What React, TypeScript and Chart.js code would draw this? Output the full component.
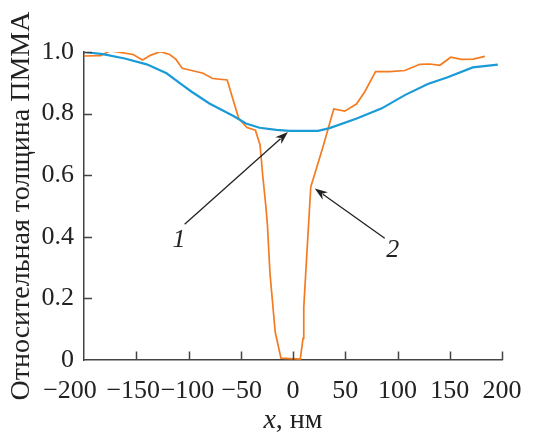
import React, { useEffect, useRef } from 'react';
import { Chart, registerables } from 'chart.js';

Chart.register(...registerables);

// Curve 1 (blue)
const blueX = [-200, -182, -161, -140, -121, -108, -97, -80, -57, -45, -32, -16, -3, 24, 35, 61, 85, 107, 129, 148, 172, 196];
const blueY = [1.0, 0.993, 0.979, 0.96, 0.931, 0.898, 0.871, 0.833, 0.792, 0.768, 0.754, 0.747, 0.744, 0.744, 0.753, 0.784, 0.817, 0.86, 0.896, 0.918, 0.95, 0.959];

// Curve 2 (orange)
const orangeX = [-200, -184, -175, -153, -144, -136, -127, -118, -112, -106, -96, -86, -77, -63, -52, -44, -36, -31.5, -29, -26, -24.5, -22, -17, -11.5, 7, 9.6, 10.3, 13, 17, 28.5, 39, 49.5, 60.7, 68.7, 79, 92.6, 107, 121.4, 131, 140.5, 151, 161.3, 172.4, 183.6];
const orangeY = [0.987, 0.988, 1.004, 0.992, 0.974, 0.99, 1.001, 0.992, 0.976, 0.947, 0.939, 0.931, 0.914, 0.909, 0.785, 0.755, 0.746, 0.698, 0.6, 0.5, 0.44, 0.28, 0.09, 0.006, 0.003, 0.07, 0.17, 0.33, 0.562, 0.69, 0.815, 0.808, 0.831, 0.871, 0.936, 0.936, 0.94, 0.96, 0.961, 0.957, 0.983, 0.976, 0.977, 0.986];

const xTicks = [-200, -150, -100, -50, 0, 50, 100, 150, 200];
const xTickShift = [-14, -3, -1, 1, 0, 0, 0, 0, 0];
const yTicks = [0, 0.2, 0.4, 0.6, 0.8, 1.0];

const curveLabels = ['1', '2'];
// label positions and arrows in data coordinates
const labelX = [-109, 95.5];
const labelY = [0.389, 0.356];
const arrowTailX = [-103.7, 87.8];
const arrowTailY = [0.441, 0.395];
const arrowHeadX = [-4.8, 20.8];
const arrowHeadY = [0.74, 0.557];

const yTitle = 'Относительная толщина ПММА';
const xTitleItalic = 'x';
const xTitleRest = ', нм';

const SERIF = '"Liberation Serif", "DejaVu Serif", serif';
const INK = '#222222';
const AXIS = '#444444';
const TICK_SIZE = 26;
const TITLE_SIZE = 28;

const fmtX = (v: number) => (v < 0 ? '\u2212' + Math.abs(v) : String(v));
const fmtY = (v: number) => (v === 0 ? '0' : v.toFixed(1));

const decorPlugin = {
  id: 'decor',
  afterDraw(chart: any) {
    const ctx = chart.ctx as CanvasRenderingContext2D;
    const xs = chart.scales.x;
    const ys = chart.scales.y;
    const area = chart.chartArea;
    ctx.save();
    // inward ticks
    ctx.strokeStyle = AXIS;
    ctx.lineWidth = 1.5;
    ctx.beginPath();
    xTicks.forEach((v) => {
      if (v === xs.min) return;
      const px = Math.round(xs.getPixelForValue(v)) + 0.5;
      ctx.moveTo(px, area.bottom);
      ctx.lineTo(px, area.bottom - 8.5);
    });
    yTicks.forEach((v) => {
      if (v === ys.min) return;
      const py = Math.round(ys.getPixelForValue(v)) + 0.5;
      ctx.moveTo(area.left, py);
      ctx.lineTo(area.left + 8, py);
    });
    ctx.stroke();

    // x tick labels
    ctx.fillStyle = INK;
    ctx.font = TICK_SIZE + 'px ' + SERIF;
    ctx.textAlign = 'center';
    ctx.textBaseline = 'alphabetic';
    xTicks.forEach((v, i) => {
      ctx.fillText(fmtX(v), xs.getPixelForValue(v) + xTickShift[i], area.bottom + 37.5);
    });

    // arrows
    ctx.strokeStyle = INK;
    ctx.fillStyle = INK;
    ctx.lineWidth = 1.3;
    for (let i = 0; i < arrowTailX.length; i++) {
      const x1 = xs.getPixelForValue(arrowTailX[i]);
      const y1 = ys.getPixelForValue(arrowTailY[i]);
      const x2 = xs.getPixelForValue(arrowHeadX[i]);
      const y2 = ys.getPixelForValue(arrowHeadY[i]);
      const ang = Math.atan2(y2 - y1, x2 - x1);
      const hl = 13;
      const hw = 4.5;
      const bx = x2 - hl * Math.cos(ang);
      const by = y2 - hl * Math.sin(ang);
      ctx.beginPath();
      ctx.moveTo(x1, y1);
      ctx.lineTo(bx + 3 * Math.cos(ang), by + 3 * Math.sin(ang));
      ctx.stroke();
      ctx.beginPath();
      ctx.moveTo(x2, y2);
      ctx.lineTo(bx - hw * Math.sin(ang), by + hw * Math.cos(ang));
      ctx.lineTo(bx + 4 * Math.cos(ang), by + 4 * Math.sin(ang));
      ctx.lineTo(bx + hw * Math.sin(ang), by - hw * Math.cos(ang));
      ctx.closePath();
      ctx.fill();
    }

    // curve labels
    ctx.font = 'italic 26px ' + SERIF;
    ctx.textAlign = 'center';
    ctx.textBaseline = 'middle';
    for (let i = 0; i < curveLabels.length; i++) {
      ctx.fillText(curveLabels[i], xs.getPixelForValue(labelX[i]), ys.getPixelForValue(labelY[i]));
    }

    // x axis title with italic x
    const cx = (area.left + area.right) / 2;
    const baseY = 428;
    ctx.textBaseline = 'alphabetic';
    ctx.textAlign = 'left';
    ctx.font = 'italic ' + TITLE_SIZE + 'px ' + SERIF;
    const w1 = ctx.measureText(xTitleItalic).width;
    ctx.font = TITLE_SIZE + 'px ' + SERIF;
    const w2 = ctx.measureText(xTitleRest).width;
    const start = cx - (w1 + w2) / 2;
    ctx.font = 'italic ' + TITLE_SIZE + 'px ' + SERIF;
    ctx.fillText(xTitleItalic, start, baseY);
    ctx.font = TITLE_SIZE + 'px ' + SERIF;
    ctx.fillText(xTitleRest, start + w1, baseY);
    ctx.restore();
  },
};

export default function App() {
  const canvasRef = useRef<HTMLCanvasElement | null>(null);

  useEffect(() => {
    const canvas = canvasRef.current;
    if (!canvas) return;
    const chart = new Chart(canvas, {
      type: 'line',
      data: {
        datasets: [
          {
            label: '1',
            data: blueX.map((x, i) => ({ x, y: blueY[i] })),
            borderColor: '#1a9bd7',
            borderWidth: 2.2,
            pointRadius: 0,
            tension: 0,
            fill: false,
          },
          {
            label: '2',
            data: orangeX.map((x, i) => ({ x, y: orangeY[i] })),
            borderColor: '#f47b20',
            borderWidth: 1.7,
            pointRadius: 0,
            tension: 0,
            fill: false,
          },
        ],
      },
      options: {
        animation: false,
        responsive: false,
        events: [],
        layout: { padding: { top: 52, right: 33, left: 0, bottom: 0 } },
        plugins: {
          legend: { display: false },
          tooltip: { enabled: false },
          title: { display: false },
        },
        scales: {
          x: {
            type: 'linear',
            min: -200,
            max: 200,
            afterBuildTicks: (s: any) => {
              s.ticks = xTicks.map((v) => ({ value: v }));
            },
            afterFit: (s: any) => {
              s.height = 73;
            },
            grid: { display: false, drawTicks: false },
            border: { display: true, color: AXIS, width: 1.5 },
            ticks: { display: false },
            title: { display: false },
          },
          y: {
            type: 'linear',
            min: 0,
            max: 1.0,
            afterBuildTicks: (s: any) => {
              s.ticks = yTicks.map((v) => ({ value: v }));
            },
            afterFit: (s: any) => {
              s.width = 84;
            },
            grid: { display: false, drawTicks: false },
            border: { display: true, color: AXIS, width: 1.5 },
            ticks: {
              font: { family: SERIF, size: TICK_SIZE },
              color: INK,
              padding: 10,
              autoSkip: false,
              callback: (v: any) => fmtY(Number(v)),
            },
            title: {
              display: true,
              text: yTitle,
              font: { family: SERIF, size: TITLE_SIZE },
              color: INK,
              padding: { top: 5, bottom: 0 },
            },
          },
        },
      },
      plugins: [decorPlugin],
    } as any);
    return () => chart.destroy();
  }, []);

  return (
    <div style={{ position: 'absolute', left: 0, top: 0, width: 535, height: 433, background: '#fff' }}>
      <canvas ref={canvasRef} width={535} height={433} style={{ width: 535, height: 433, display: 'block' }} />
    </div>
  );
}
